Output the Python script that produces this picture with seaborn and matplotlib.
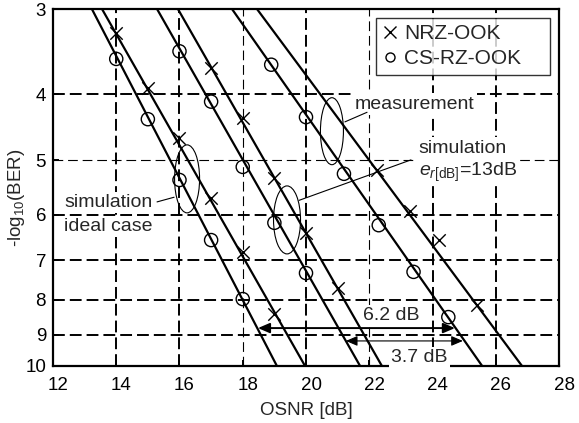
import numpy as np
import pandas as pd
import matplotlib
matplotlib.use('Agg')
import matplotlib.pyplot as plt
import matplotlib.transforms as mtransforms
from matplotlib.patches import Ellipse
from matplotlib.lines import Line2D
from matplotlib.ticker import NullLocator, FixedLocator, FixedFormatter
import seaborn as sns

# measured / simulated points: OSNR [dB] vs -log10(BER)
osnr_ideal_nrz = [14, 15, 16, 17, 18, 19]
ber_ideal_nrz = [3.25, 3.92, 4.64, 5.67, 6.81, 8.39]
osnr_ideal_cs = [14, 15, 16, 17, 18]
ber_ideal_cs = [3.55, 4.35, 5.34, 6.54, 7.98]

osnr_er_nrz = [17, 18, 19, 20, 21]
ber_er_nrz = [3.66, 4.33, 5.30, 6.39, 7.69]
osnr_er_cs = [16, 17, 18, 19, 20]
ber_er_cs = [3.46, 4.10, 5.11, 6.17, 7.31]

osnr_meas_nrz = [22.25, 23.3, 24.2, 25.4]
ber_meas_nrz = [5.16, 5.93, 6.54, 8.14]
osnr_meas_cs = [18.9, 20.0, 21.2, 22.3, 23.4, 24.5]
ber_meas_cs = [3.62, 4.32, 5.23, 6.22, 7.28, 8.48]

# straight fit lines: OSNR where each crosses -log10(BER)=3 and =10
fit_names = ['ideal CS-RZ', 'ideal NRZ', 'er CS-RZ', 'er NRZ', 'meas CS-RZ', 'meas NRZ']
fit_osnr_at_3 = [13.23, 13.55, 15.29, 15.95, 17.66, 18.45]
fit_osnr_at_10 = [19.08, 19.97, 21.71, 22.40, 25.57, 26.83]
fit_ber = [3, 10]

x_ticks = [12, 14, 16, 18, 20, 22, 24, 26, 28]
y_ticks = [3, 4, 5, 6, 7, 8, 9, 10]

sns.set_style('ticks')
plt.rcParams['font.family'] = ['Liberation Sans', 'DejaVu Sans']
plt.rcParams['mathtext.fontset'] = 'custom'
plt.rcParams['mathtext.rm'] = 'Liberation Sans'
plt.rcParams['mathtext.it'] = 'Liberation Sans:italic'
plt.rcParams['lines.scale_dashes'] = False

fig = plt.figure(figsize=(5.79, 4.23), dpi=100)
ax = fig.add_axes([0.0915, 0.1348, 0.874, 0.8439])

# grid (two dash weights as in the original)
for xv in x_ticks[1:-1]:
    thin = xv in (18, 22)
    ax.axvline(xv, color='k', lw=0.8 if thin else 1.4,
               dashes=(7, 3.5) if thin else (8.5, 3.6), zorder=1)
for yv in y_ticks[1:-1]:
    thin = yv == 5
    ax.axhline(yv, color='k', lw=0.8 if thin else 1.4,
               dashes=(7, 3.5) if thin else (8.5, 3.6), zorder=1)

fits = pd.DataFrame({
    'curve': np.repeat(fit_names, 2),
    'osnr': np.ravel(np.column_stack([fit_osnr_at_3, fit_osnr_at_10])),
    'ber': fit_ber * len(fit_names),
})
sns.lineplot(data=fits, x='osnr', y='ber', units='curve', estimator=None,
             sort=False, color='black', lw=1.6, ax=ax, zorder=4)

nrz = pd.DataFrame({'osnr': osnr_ideal_nrz + osnr_er_nrz + osnr_meas_nrz,
                    'ber': ber_ideal_nrz + ber_er_nrz + ber_meas_nrz})
cs = pd.DataFrame({'osnr': osnr_ideal_cs + osnr_er_cs + osnr_meas_cs,
                   'ber': ber_ideal_cs + ber_er_cs + ber_meas_cs})
sns.scatterplot(data=nrz, x='osnr', y='ber', marker='x', color='black',
                s=80, linewidth=1.0, ax=ax, zorder=5)
sns.scatterplot(data=cs, x='osnr', y='ber', marker='o', color='black',
                facecolor='none', edgecolor='black', s=90, linewidth=1.0,
                ax=ax, zorder=5)

ax.set_yscale('log')
ax.set_xlim(12, 28)
ax.set_ylim(10, 3)
ax.yaxis.set_minor_locator(NullLocator())
ax.yaxis.set_major_locator(FixedLocator(y_ticks))
ax.yaxis.set_major_formatter(FixedFormatter([str(v) for v in y_ticks]))
ax.set_xticks(x_ticks)
ax.set_xticklabels([str(v) for v in x_ticks])
ax.tick_params(direction='in', length=4, width=1.4, labelsize=13.5, colors='black')
ax.tick_params(axis='x', pad=8)
ax.tick_params(axis='y', pad=5)
shift = mtransforms.ScaledTranslation(5 / 100, 0, fig.dpi_scale_trans)
for lab in ax.get_xticklabels():
    lab.set_transform(lab.get_transform() + shift)
for sp in ax.spines.values():
    sp.set_linewidth(1.6)
    sp.set_color('black')

ax.set_xlabel('OSNR [dB]', fontsize=13.5, labelpad=6)
ax.set_ylabel(r'-log$_{\mathrm{10}}$(BER)', fontsize=13.5)
ax.yaxis.set_label_coords(-0.052, 0.47)


def ellipse(xc, yc, w, h, angle=0):
    tr = fig.dpi_scale_trans + mtransforms.ScaledTranslation(xc, yc, ax.transData)
    ax.add_patch(Ellipse((0, 0), w, h, angle=angle, transform=tr, fill=False,
                         lw=0.8, ec='black', zorder=6))


ellipse(16.24, 5.32, 0.25, 0.68)
ellipse(19.40, 6.11, 0.27, 0.68)
ellipse(20.82, 4.53, 0.23, 0.67)

ax.plot([15.29, 15.83], [5.75, 5.66], color='black', lw=0.8, zorder=6)
ax.plot([19.78, 23.32], [5.72, 4.99], color='black', lw=0.8, zorder=6)
ax.plot([21.23, 21.93], [4.39, 4.25], color='black', lw=0.8, zorder=6)

box = dict(boxstyle='square,pad=0.12', fc='white', ec='none')
tkw = dict(fontsize=14, ha='left', va='baseline', bbox=box, zorder=3)
ax.text(12.35, 5.85, 'simulation', **tkw)
ax.text(12.35, 6.34, 'ideal case', **tkw)
ax.text(21.55, 4.20, 'measurement', **tkw)
ax.text(23.54, 4.87, 'simulation', **tkw)
ax.text(23.57, 5.27, r'$e_{r\mathrm{[dB]}}$=13dB', **tkw)
ax.text(21.80, 8.57, '6.2 dB', **tkw)
ax.text(22.69, 9.87, '3.7 dB', **tkw)

ax.annotate('', xy=(18.48, 8.80), xytext=(24.71, 8.80),
            arrowprops=dict(arrowstyle='<|-|>,head_length=0.7,head_width=0.3',
                            color='black', lw=1.4, shrinkA=0, shrinkB=0,
                            mutation_scale=10), zorder=6)
ax.annotate('', xy=(21.26, 9.19), xytext=(24.96, 9.19),
            arrowprops=dict(arrowstyle='<|-|>,head_length=0.7,head_width=0.3',
                            color='black', lw=0.8, shrinkA=0, shrinkB=0,
                            mutation_scale=10), zorder=6)

handles = [Line2D([], [], marker='x', ls='', color='black', ms=8.5, mew=1.0),
           Line2D([], [], marker='o', ls='', mfc='none', mec='black', ms=6.5, mew=1.0)]
leg = ax.legend(handles, ['NRZ-OOK', 'CS-RZ-OOK'], loc='upper right',
                bbox_to_anchor=(0.638, 0.0, 0.344, 0.975), mode='expand',
                borderaxespad=0.0, fontsize=15, frameon=True, fancybox=False,
                handlelength=0.8, handletextpad=0.25, borderpad=0.3,
                labelspacing=0.3)
leg.get_frame().set_edgecolor('black')
leg.get_frame().set_linewidth(1.0)
leg.set_zorder(7)

plt.savefig('out.png', dpi=100)
